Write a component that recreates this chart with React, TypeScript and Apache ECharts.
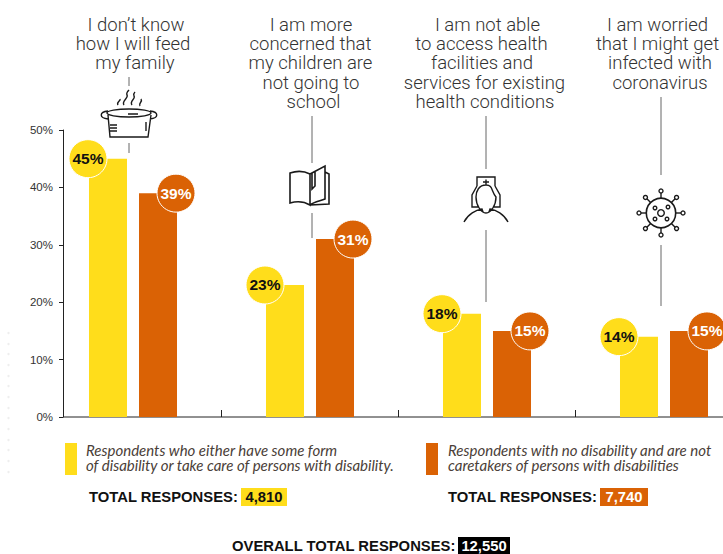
import React, { useEffect, useRef } from "react";
import * as echarts from "echarts";

const categories = ["Feed family", "Children school", "Health access", "Infection"];
const disabilityValues = [45, 23, 18, 14];
const otherValues = [39, 31, 15, 15];
const yTicks = [0, 10, 20, 30, 40, 50];

const headlines = [
  ["I don\u2019t know", "how I will feed", "my family"],
  ["I am more", "concerned that", "my children are", "not going to", "school"],
  ["I am not able", "to access health", "facilities and", "services for existing", "health conditions"],
  ["I am worried", "that I might get", "infected with", "coronavirus"],
];
const headlineCenters = [
  [136, 133, 135],
  [311, 310.5, 310.5, 311, 313.5],
  [487.5, 481.5, 482, 484.5, 485],
  [657.5, 657.5, 660, 660],
];
const legendYellow = "Respondents who either have some form\nof disability or take care of persons with disability.";
const legendOrange = "Respondents with no disability and are not\ncaretakers of persons with disabilities";
const totalLabel = "TOTAL RESPONSES:";
const overallLabel = "OVERALL TOTAL RESPONSES:";
const totalYellow = "4,810";
const totalOrange = "7,740";
const totalAll = "12,550";

const YELLOW = "#FFDD1B";
const ORANGE = "#DA6205";
const INK = "#1a1a1a";
const FONT = "'Liberation Sans', Arial, sans-serif";
const HEAD_FONT = "Roboto, 'Liberation Sans', sans-serif";

const potD =
  "M108 115 L110 137 L148 137 L151 115 M107 113 A22 4 0 1 1 151 113 A22 4 0 1 1 107 113 " +
  "M108 111 C99 112 99 118 108 119 M150 111 C159 112 159 118 150 119 " +
  "M118 105 C116 102 121 101 120 99 M124 105 C121 101 129 98 127 95 C126 93 128 91 129 90 " +
  "M132 105 C129 101 136 99 134 96 C133 94 134 93 135 92 M140 106 C138 103 143 102 141 99 " +
  "M110 125 L117 125 M110 128 L117 128 M110 131 L117 131 M146 122 L146 131 M128 114 L138 114";
const bookD =
  "M310 174 C304 171 296 171 290 173 L290 203 C297 201 305 202 310 205 L310 174 L325 166 L325 199 C320 201 314 202 310 205 " +
  "M325 172 L329 174 L329 204 L310 205 M312 173 L312 189 L315 186 L315 171";
const nurseD =
  "M477 186 L477 177 L495 177 L495 186 M483 182 L489 182 M486 179.500 L486 185 " +
  "M486 185 C479 185 476 191 476 197 C476 205 481 213 486 213 C491 213 496 205 496 197 C491 191 493 185 486 185 " +
  "M477 186 L472 195 L472 207 L479 207 M495 186 L500 195 L500 207 L493 207 " +
  "M464 222 C468 214 476 210 482 209 L483 212 Q486 214 489 212 L490 209 C496 210 504 214 508 222";

const spikeAngles = [0, 45, 90, 135, 180, 225, 270, 315];
const virusDots: number[][] = [[655, 208, 1.8], [668, 207, 1.8], [655, 219, 1.8], [667, 219, 1.8], [661, 213, 3.3]];
const faintDotRows = [333, 344, 354, 365, 376, 386, 397, 408, 418, 429, 440, 450, 461, 472];

echarts.graphic.registerShape("potIcon", echarts.graphic.extendPath(potD, {}));
echarts.graphic.registerShape("bookIcon", echarts.graphic.extendPath(bookD, {}));
echarts.graphic.registerShape("nurseIcon", echarts.graphic.extendPath(nurseD, {}));

const iconStyle = { fill: "none", stroke: INK, lineWidth: 1.4 };

function virus() {
  const cx = 661, cy = 213;
  const out: any[] = [{ type: "circle", shape: { cx, cy, r: 14.7 }, style: { ...iconStyle, lineWidth: 1.6 } }];
  spikeAngles.forEach((a) => {
    const r = (a * Math.PI) / 180;
    const c = Math.cos(r), s = Math.sin(r);
    out.push({ type: "line", shape: { x1: cx + c * 14.7, y1: cy + s * 14.7, x2: cx + c * 20, y2: cy + s * 20 }, style: { stroke: INK, lineWidth: 1.4 } });
    out.push({ type: "circle", shape: { cx: cx + c * 22, cy: cy + s * 22, r: 2 }, style: iconStyle });
  });
  virusDots.forEach(([x, y, r]) => out.push({ type: "circle", shape: { cx: x, cy: y, r }, style: iconStyle }));
  return out;
}

const connectors = [
  [129, 77, 86], [129, 143, 153],
  [312, 116, 163], [312, 213, 238],
  [486, 116, 169], [486, 230, 302],
  [661, 97, 175], [661, 245, 306],
];

function headlineElements() {
  const out: any[] = [];
  headlines.forEach((lines, i) => {
    lines.forEach((t, j) => {
      out.push({
        type: "text", x: headlineCenters[i][j], y: 25 + j * 19.2,
        style: { text: t, fill: "#333", font: `300 18.5px ${HEAD_FONT}`, textAlign: "center", textVerticalAlign: "middle" },
      });
    });
  });
  return out;
}

function txt(text: string, x: number, y: number, font: string, fill: string, align = "left", extra: any = {}) {
  return { type: "text", x, y, z: 10, style: { text, font, fill, textAlign: align, textVerticalAlign: "middle", ...extra } };
}
function box(x: number, y: number, w: number, h: number, fill: string) {
  return { type: "rect", z: 5, shape: { x, y, width: w, height: h }, style: { fill } };
}

const LEGEND_FONT = "italic 400 15px Lato, sans-serif";
const TOTAL_FONT = `700 14.8px ${FONT}`;

export default function App() {
  const ref = useRef<HTMLDivElement>(null);
  useEffect(() => {
    document.body.style.margin = "0";
    const chart = echarts.init(ref.current!, undefined, { renderer: "svg" });
    const circle = (name: string, values: number[], color: string, textColor: string, dx: number) => ({
      name, type: "scatter", data: values, symbol: "circle", symbolSize: 38, symbolOffset: [dx, 0], z: 5, clip: false,
      itemStyle: { color, borderColor: "#fff", borderWidth: 1, opacity: 1 },
      label: { show: true, position: "inside", formatter: (p: any) => `${p.value}%`, color: textColor, fontFamily: FONT, fontWeight: 700, fontSize: 15.5 },
    });
    chart.setOption({
      animation: false,
      grid: { left: 44.5, top: 130, width: 708, height: 287, containLabel: false, outerBoundsMode: "none" },
      xAxis: {
        type: "category", data: categories, boundaryGap: true,
        axisLine: { show: false },
        axisTick: { show: true, inside: true, length: 7, interval: (i: number) => i > 0, lineStyle: { color: "#222", width: 1 } },
        axisLabel: { show: false },
      },
      yAxis: {
        type: "value", min: yTicks[0], max: yTicks[5], interval: 10, offset: -18.5,
        axisLine: { show: true, lineStyle: { color: "#222", width: 1 } },
        axisTick: { show: true, length: 4, lineStyle: { color: "#222" } },
        axisLabel: { formatter: "{value}%", color: "#333", fontFamily: FONT, fontSize: 11.5, margin: 10 },
        splitLine: { show: false },
      },
      series: [
        { name: "Disability", type: "bar", data: disabilityValues, barWidth: 38, barGap: "31.6%", itemStyle: { color: YELLOW } },
        { name: "No disability", type: "bar", data: otherValues, barWidth: 38, itemStyle: { color: ORANGE } },
        circle("Disability label", disabilityValues, YELLOW, "#111", -45),
        circle("No disability label", otherValues, ORANGE, "#fff", 43),
      ],
      graphic: {
        elements: [
          { type: "line", shape: { x1: 63, y1: 417, x2: 723, y2: 417 }, style: { stroke: "#222", lineWidth: 1 } },
          ...faintDotRows.map((y) => ({ type: "circle", shape: { cx: 8.5, cy: y, r: 1.2 }, style: { fill: "#eeeeee" } })),
          ...headlineElements(),
          ...connectors.map(([x, y1, y2]) => ({ type: "line", shape: { x1: x, y1, x2: x, y2 }, style: { stroke: "#666", lineWidth: 1 } })),
          { type: "potIcon", x: 0, y: 0, style: iconStyle },
          { type: "bookIcon", x: 0, y: 0, style: { ...iconStyle, lineWidth: 1.6 } },
          { type: "nurseIcon", x: 0, y: 0, style: iconStyle },
          ...virus(),
          box(65, 443, 12, 32, YELLOW),
          box(426, 443, 12, 32, ORANGE),
          ...legendYellow.split("\n").map((t, i) => txt(t, 86, 450 + i * 15, LEGEND_FONT, "#4a4038")),
          ...legendOrange.split("\n").map((t, i) => txt(t, 448, 450 + i * 15, LEGEND_FONT, "#4a4038")),
          txt(totalLabel, 89, 497, TOTAL_FONT, "#111"),
          box(241, 488, 46, 18, YELLOW),
          txt(totalYellow, 264, 497, TOTAL_FONT, "#111", "center"),
          txt(totalLabel, 448, 497, TOTAL_FONT, "#111"),
          box(600, 488, 48, 18, ORANGE),
          txt(totalOrange, 624, 497, TOTAL_FONT, "#fff", "center"),
          txt(overallLabel, 232, 546, TOTAL_FONT, "#111"),
          box(458, 537, 52, 17, "#000"),
          txt(totalAll, 484, 546, TOTAL_FONT, "#fff", "center"),
        ],
      },
    });
    return () => chart.dispose();
  }, []);
  return <div ref={ref} style={{ width: 723, height: 554 }} />;
}
